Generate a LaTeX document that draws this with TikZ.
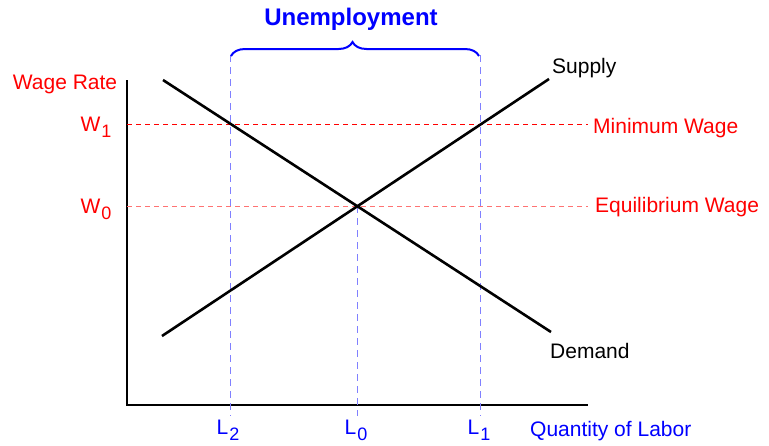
\documentclass[tikz,border=0pt]{standalone}
\usepackage{fontspec}
\setmainfont{Liberation Sans}
\usepackage{tikz}
\usetikzlibrary{positioning,decorations.pathreplacing}

\newcommand{\lsub}[1]{\kern1pt\raisebox{-0.55ex}{\fontsize{18}{18}\selectfont #1}}

\begin{document}
\begin{tikzpicture}[x=1pt, y=-1pt, font=\fontsize{21}{23}\selectfont,
  axis/.style={line width=2.6pt, black},
  curve/.style={line width=2.6pt, black},
  wageline/.style={red, line width=0.8pt, dash pattern=on 5pt off 4pt},
  laborline/.style={blue!50, line width=0.8pt, dash pattern=on 7pt off 5pt},
  lbl/.style={inner sep=0pt, text=red},
  qlbl/.style={inner sep=0pt, text=blue},
  clbl/.style={inner sep=0pt, text=black}]
\useasboundingbox (0,0) rectangle (769,445);
% axes
\coordinate (orig) at (127,405);
\coordinate (ytop) at (127,80);
\coordinate (xend) at (588,405);
\draw[axis] (ytop) -- (orig) -- (xend);
% wage levels and labor quantities
\coordinate (w1l) at (127,124);
\coordinate (w1r) at (588,124);
\coordinate (w0l) at (127,206);
\coordinate (w0r) at (588,206);
\coordinate (l2t) at (230,55);
\coordinate (l2b) at (230,416);
\coordinate (l0t) at (357,206);
\coordinate (l0b) at (357,416);
\coordinate (l1t) at (480,55);
\coordinate (l1b) at (480,416);
\draw[wageline] (w1l) -- (w1r);
\draw[wageline, red!55] (w0l) -- (w0r);
\draw[laborline] (l2t) -- (l2b);
\draw[laborline] (l0t) -- (l0b);
\draw[laborline] (l1t) -- (l1b);
% supply and demand
\coordinate (s0) at (162,336);
\coordinate (s1) at (549,79);
\coordinate (d0) at (163,80);
\coordinate (d1) at (551,332);
\draw[curve] (s0) -- (s1);
\draw[curve] (d0) -- (d1);
% unemployment brace
\coordinate (bl) at (231,56);
\coordinate (br) at (479,56);
\draw[blue, line width=2pt, decorate,
  decoration={brace, amplitude=14pt, aspect=0.49}] (bl) -- (br);
\node[qlbl, font=\fontsize{24}{26}\selectfont\bfseries] (unemp) at (351,19) {Unemployment};
% labels
\node[lbl] (wrate) at (65,84) {Wage Rate};
\node[lbl] (w1) at (96,127) {W\lsub{1}};
\node[lbl] (w0) at (96,209) {W\lsub{0}};
\node[lbl, anchor=west] (minw) at (593,128) {Minimum Wage};
\node[lbl, anchor=west] (eqw) at (595,207) {Equilibrium Wage};
\node[clbl, anchor=west] (sup) at (552,68) {Supply};
\node[clbl, anchor=west] (dem) at (550,351) {Demand};
\node[qlbl] (l2) at (228,430) {L\lsub{2}};
\node[qlbl] (l0) at (356,430) {L\lsub{0}};
\node[qlbl] (l1) at (479,430) {L\lsub{1}};
\node[qlbl, anchor=west] (qty) at (530,431) {Quantity of Labor};
\end{tikzpicture}
\end{document}
